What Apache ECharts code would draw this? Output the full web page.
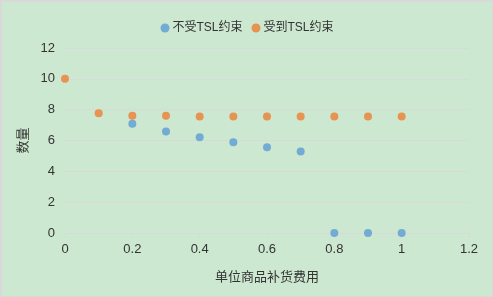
<!DOCTYPE html>
<html>
<head>
<meta charset="utf-8">
<script src="https://cdn.jsdelivr.net/npm/echarts@6/dist/echarts.min.js"></script>
<style>
  html, body { margin: 0; padding: 0; background: #fff; }
  #chart { width: 493px; height: 297px; box-sizing: border-box; border: 2px solid #d9d9d9; border-right-width: 1px; border-bottom-width: 1px; }
</style>
</head>
<body>
<div id="chart"></div>
<script>
var costs = [0, 0.1, 0.2, 0.3, 0.4, 0.5, 0.6, 0.7, 0.8, 0.9, 1.0]
var freeName = '不受TSL约束'
var boundName = '受到TSL约束'
// 不受约束：0 和 0.1 处没有点
var freeData = [[0.2, 7.09], [0.3, 6.58], [0.4, 6.21], [0.5, 5.89], [0.6, 5.57], [0.7, 5.28], [0.8, 0], [0.9, 0], [1.0, 0]]
var boundValues = [10, 7.77, 7.6, 7.6, 7.55, 7.55, 7.55, 7.55, 7.55, 7.55, 7.55]

var boundData = costs.map(function (c, i) { return [c, boundValues[i]] })

var chart = echarts.init(document.getElementById('chart'), null, {renderer: 'canvas'})
var font = 'Liberation Sans, Noto Sans CJK SC, sans-serif'
chart.setOption({
  backgroundColor: '#cde8d0',
  animation: false,
  textStyle: { fontFamily: font },
  legend: {
    top: 15,
    left: 'center',
    itemWidth: 9,
    itemHeight: 9,
    itemGap: 9,
    icon: 'circle',
    textStyle: { fontSize: 12, color: '#333', fontFamily: font, padding: [0, 0, 0, -2] },
    data: [freeName, boundName]
  },
  grid: { left: 63, right: 23, top: 46, bottom: 63 },
  xAxis: {
    type: 'value',
    min: 0,
    max: 1.2,
    interval: 0.2,
    name: '单位商品补货费用',
    nameLocation: 'middle',
    nameGap: 38,
    nameTextStyle: { fontSize: 13, color: '#333' },
    axisLine: { show: true, lineStyle: { color: '#d9d9d9' } },
    axisTick: { show: true, length: 4, lineStyle: { color: '#d9d9d9' } },
    axisLabel: { fontSize: 13, color: '#333', margin: 10 },
    splitLine: { show: false }
  },
  yAxis: {
    type: 'value',
    min: 0,
    max: 12,
    interval: 2,
    name: '数量',
    nameLocation: 'middle',
    nameGap: 32,
    nameTextStyle: { fontSize: 13, color: '#333' },
    axisLine: { show: false },
    axisTick: { show: false },
    axisLabel: { fontSize: 13, color: '#333', margin: 10 },
    splitLine: { lineStyle: { color: '#d9d9d9' } }
  },
  series: [{
    name: freeName,
    type: 'scatter',
    symbolSize: 8,
    itemStyle: { color: '#5b9bd5' },
    data: freeData
  }, {
    name: boundName,
    type: 'scatter',
    symbolSize: 8,
    itemStyle: { color: '#ed7d31' },
    data: boundData
  }]
})
</script>
</body>
</html>
